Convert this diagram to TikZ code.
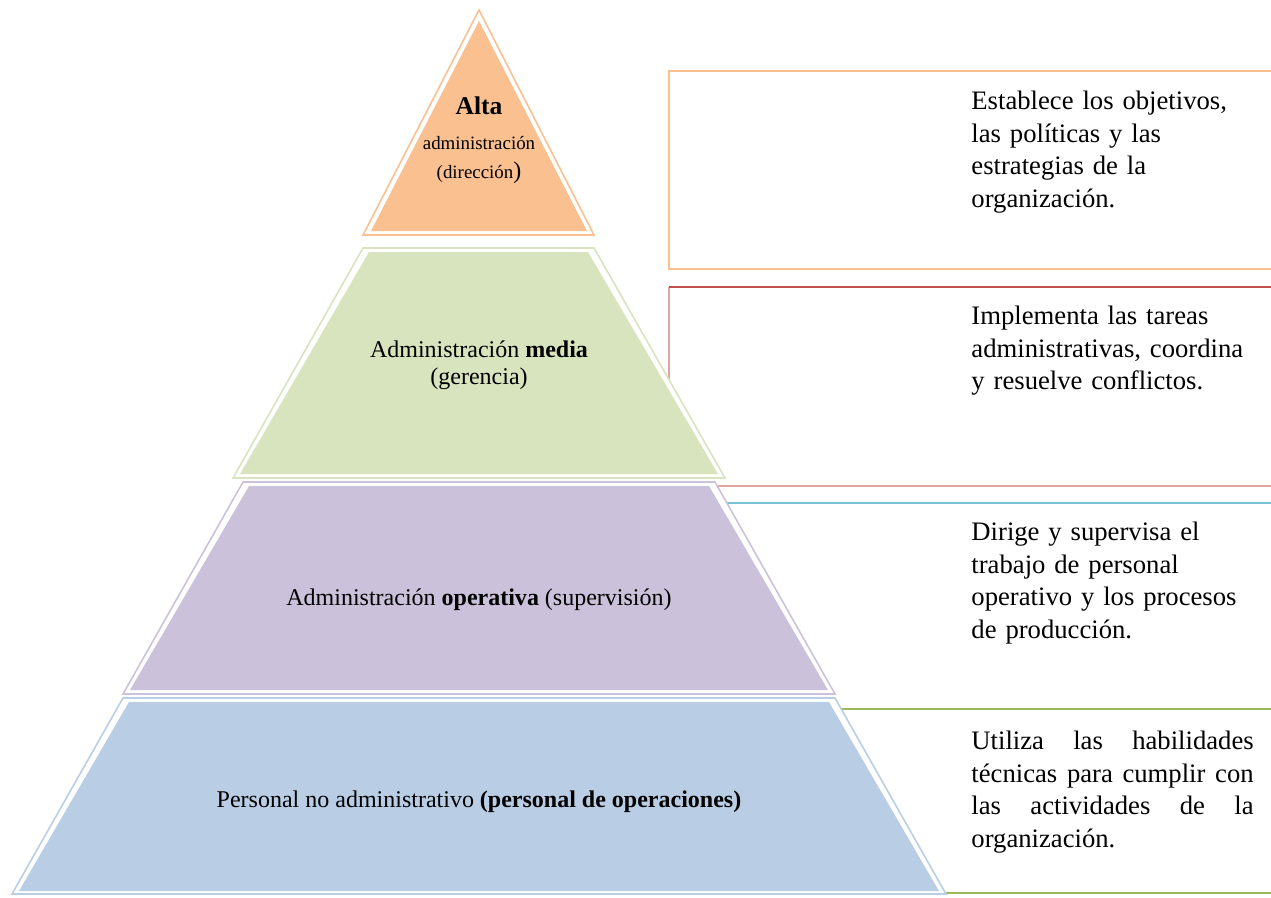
\documentclass[tikz,border=0pt]{standalone}
\usepackage{fontspec}
\setmainfont{Liberation Serif}

\definecolor{naranja}{HTML}{FAC090}
\definecolor{verde}{HTML}{D7E4BD}
\definecolor{morado}{HTML}{CCC1DA}
\definecolor{azul}{HTML}{B9CDE5}
\definecolor{rojoLinea}{HTML}{C0504D}
\definecolor{rosaLinea}{HTML}{E0A4A3}
\definecolor{celesteLinea}{HTML}{79C1D6}
\definecolor{verdeLinea}{HTML}{9BBB59}

\begin{document}
\begin{tikzpicture}[x=0.45pt,y=-0.45pt,
    borde/.style={draw=#1,line width=0.7pt,fill=white},
    caja/.style={draw=#1,line width=0.7pt},
    etiqueta/.style={align=center,font=\fontsize{10.8}{12}\selectfont},
    descripcion/.style={anchor=north west,inner sep=0pt,text width=127pt,
      align=left,font=\fontsize{12}{14.6}\selectfont}]
  \clip (0,0) rectangle (1271,897);
  \fill[white] (0,0) rectangle (1271,897);

  % cajas de la derecha (el borde izquierdo queda bajo la piramide)
  \draw[caja=naranja] (1290,71) -- (669,71) -- (669,269) -- (1290,269);
  \draw[caja=rosaLinea] (669,382) -- (669,287);
  \draw[caja=rosaLinea] (700,486) -- (1290,486);
  \draw[caja=rojoLinea] (669,287) -- (1290,287);
  \draw[caja=celesteLinea] (700,503) -- (1290,503);
  \draw[caja=verdeLinea] (800,709) -- (1290,709);
  \draw[caja=verdeLinea] (900,893) -- (1290,893);

  % piramide
  \draw[borde=naranja] (479,10) -- (594,235) -- (363,235) -- cycle;
  \fill[naranja] (479,21) -- (587,231) -- (371,231) -- cycle;
  \draw[borde=verde] (363,248) -- (594,248) -- (725,478) -- (233,478) -- cycle;
  \fill[verde] (369,252) -- (588,252) -- (718,474) -- (240,474) -- cycle;
  \draw[borde=morado] (243,482) -- (715,482) -- (835,694) -- (123,694) -- cycle;
  \fill[morado] (249,486) -- (709,486) -- (828,690) -- (130,690) -- cycle;
  \draw[borde=azul] (123,698) -- (835,698) -- (946,894) -- (12,894) -- cycle;
  \fill[azul] (129,702) -- (829,702) -- (939,891) -- (19,891) -- cycle;

  \node[etiqueta,font=\fontsize{8.5}{13}\selectfont] (alta) at (479,140)
    {{\fontsize{11.5}{12}\selectfont\textbf{Alta}}\\[3pt]
     administración\\(dirección{\fontsize{10.8}{12}\selectfont)}};
  \node[etiqueta] (media) at (479,365) {Administración \textbf{media}\\(gerencia)};
  \node[etiqueta] (operativa) at (479,600) {Administración \textbf{operativa} (supervisión)};
  \node[etiqueta] (personal) at (479,802) {Personal no administrativo \textbf{(personal de operaciones)}};

  \node[descripcion] (descAlta) at (971,91)
    {Establece los objetivos,\\las políticas y las\\estrategias de la\\organización.};
  \node[descripcion] (descMedia) at (971,306)
    {Implementa las tareas\\administrativas, coordina\\y resuelve conflictos.};
  \node[descripcion] (descOperativa) at (971,522)
    {Dirige y supervisa el\\trabajo de personal\\operativo y los procesos\\de producción.};
  \node[descripcion,align=justify] (descPersonal) at (971,731)
    {Utiliza las habilidades\linebreak técnicas para cumplir con\linebreak
     las actividades de la\linebreak organización.};
\end{tikzpicture}
\end{document}
